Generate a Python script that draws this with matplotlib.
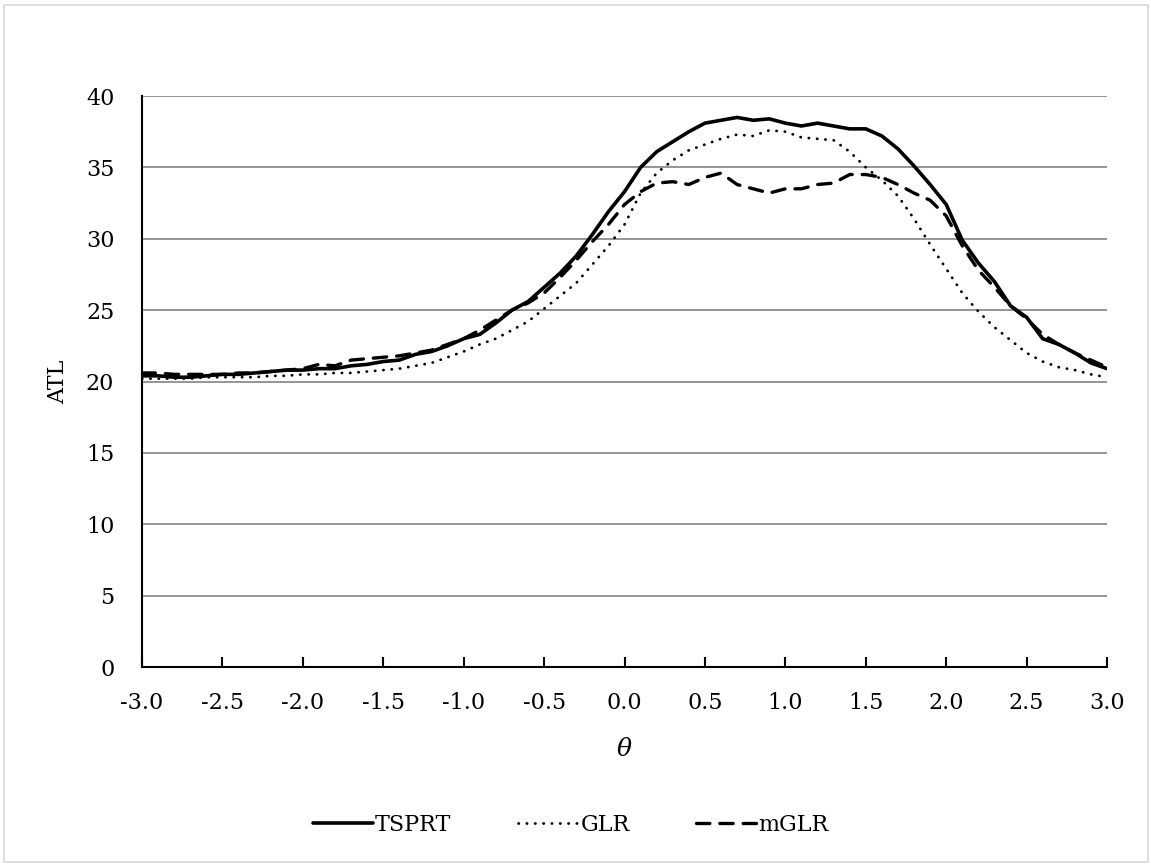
import matplotlib
matplotlib.use("Agg")
from matplotlib import pyplot as plt
from matplotlib.patches import Rectangle
import numpy as np

# theta grid, step 0.1
theta = np.round(np.arange(-3.0, 3.0001, 0.1), 1)

tsprt = [20.4, 20.4, 20.3, 20.3, 20.4, 20.5, 20.5, 20.6, 20.7, 20.8,
         20.8, 20.9, 20.9, 21.1, 21.2, 21.4, 21.5, 21.9, 22.1, 22.5,
         23.0, 23.3, 24.1, 25.0, 25.6, 26.6, 27.6, 28.8, 30.3, 31.9,
         33.3, 35.0, 36.1, 36.8, 37.5, 38.1, 38.3, 38.5, 38.3, 38.4,
         38.1, 37.9, 38.1, 37.9, 37.7, 37.7, 37.2, 36.3, 35.1, 33.8,
         32.4, 29.9, 28.3, 27.0, 25.3, 24.5, 23.0, 22.6, 22.0, 21.3,
         20.9]

glr = [20.2, 20.2, 20.2, 20.2, 20.3, 20.3, 20.3, 20.3, 20.4, 20.4,
       20.5, 20.5, 20.6, 20.6, 20.7, 20.8, 20.9, 21.1, 21.3, 21.7,
       22.1, 22.6, 23.0, 23.6, 24.2, 25.1, 26.0, 26.9, 28.2, 29.5,
       31.0, 33.2, 34.6, 35.5, 36.2, 36.6, 37.0, 37.3, 37.2, 37.6,
       37.5, 37.1, 37.0, 36.9, 36.1, 35.0, 34.1, 33.0, 31.4, 29.6,
       27.9, 26.2, 24.9, 23.8, 22.9, 22.0, 21.4, 21.0, 20.8, 20.5,
       20.3]

mglr = [20.6, 20.6, 20.5, 20.5, 20.5, 20.5, 20.6, 20.6, 20.7, 20.8,
        20.9, 21.2, 21.1, 21.5, 21.6, 21.7, 21.8, 22.0, 22.2, 22.6,
        23.0, 23.6, 24.3, 25.0, 25.5, 26.2, 27.3, 28.5, 29.8, 31.0,
        32.4, 33.3, 33.9, 34.0, 33.8, 34.3, 34.6, 33.8, 33.5, 33.2,
        33.5, 33.5, 33.8, 33.9, 34.5, 34.5, 34.3, 33.8, 33.2, 32.7,
        31.6, 29.5, 27.8, 26.6, 25.3, 24.4, 23.3, 22.6, 22.0, 21.5,
        21.0]

xticks = np.round(np.arange(-3.0, 3.0001, 0.5), 1)
yticks = list(range(0, 41, 5))

plt.rcParams["font.family"] = ["DejaVu Serif"]

fig = plt.figure(figsize=(11.51, 8.65), dpi=100)
ax = fig.add_axes([0.1234, 0.2289, 0.8384, 0.6601])

ax.plot(theta, tsprt, color="black", lw=2.6, solid_capstyle="round",
        solid_joinstyle="round", label="TSPRT")
ax.plot(theta, glr, color="black", lw=2.0, linestyle=(0, (0.1, 2.9)),
        dash_capstyle="round", label="GLR")
ax.plot(theta, mglr, color="black", lw=2.4, linestyle=(0, (4, 3)),
        dash_capstyle="round", dash_joinstyle="round", label="mGLR")

ax.set_xlim(-3.0, 3.0)
ax.set_ylim(0, 40)
ax.set_xticks(xticks)
ax.set_xticklabels(["%.1f" % v for v in xticks])
ax.set_yticks(yticks)
ax.grid(axis="y", color="#8c8c8c", lw=1.3)
ax.set_axisbelow(True)

for s in ["top", "right"]:
    ax.spines[s].set_visible(False)
ax.spines["left"].set_linewidth(1.5)
ax.spines["bottom"].set_linewidth(1.5)
ax.tick_params(axis="x", direction="in", length=7, width=1.5, labelsize=16, pad=18)
ax.tick_params(axis="y", length=0, labelsize=16, pad=20)

ax.set_ylabel("ATL", fontsize=16, labelpad=12)
ax.set_xlabel("θ", fontsize=18, fontstyle="italic", labelpad=17)

fig.legend(loc="center", bbox_to_anchor=(0.496, 0.046), ncol=3, frameon=False,
           fontsize=16, handlelength=2.7, handletextpad=0.1, columnspacing=3.0)

# light chart-area border
fig.patches.append(Rectangle((0.0035, 0.004), 0.9935, 0.99, transform=fig.transFigure,
                             fill=False, edgecolor="#d9d9d9", lw=1.2))

fig.savefig("out.png", dpi=100)
